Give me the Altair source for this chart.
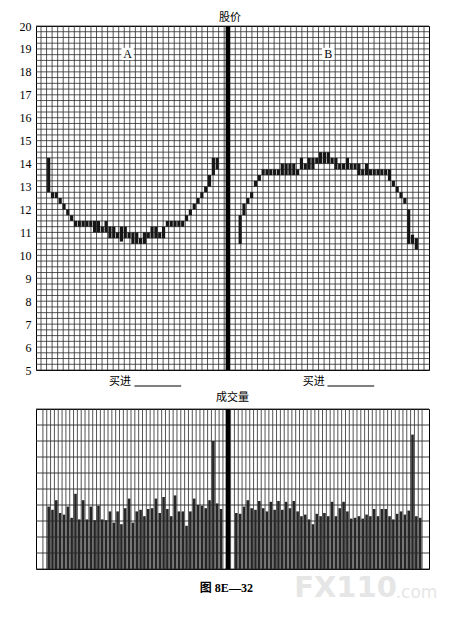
import altair as alt
import pandas as pd
import numpy as np

# ---- price data (daily low / high) ----
a_days = list(range(2, 47))
a_low = [12.75, 12.5, 12.5, 12.25, 12.0, 11.75, 11.5, 11.25, 11.25, 11.25, 11.25, 11.25,
         11.0, 11.0, 11.0, 11.0, 10.75, 10.75, 10.75, 10.6, 10.75, 10.75, 10.5, 10.5, 10.5,
         10.5, 10.75, 10.75, 10.75, 10.75, 10.75, 11.25, 11.25, 11.25, 11.25, 11.25, 11.5,
         11.75, 12.0, 12.25, 12.5, 12.75, 13.0, 13.5, 13.75]
a_high = [14.25, 12.75, 12.75, 12.5, 12.25, 12.0, 11.75, 11.5, 11.5, 11.5, 11.5, 11.5,
          11.5, 11.5, 11.25, 11.5, 11.25, 11.25, 11.0, 11.25, 11.25, 11.0, 11.0, 11.0, 10.75,
          11.0, 11.0, 11.25, 11.25, 11.0, 11.25, 11.5, 11.5, 11.5, 11.5, 11.5, 11.75,
          12.0, 12.25, 12.5, 12.75, 13.0, 13.5, 14.25, 14.25]
b_days = list(range(52, 99))
b_low = [10.5, 11.75, 12.25, 12.5, 13.0, 13.25, 13.5, 13.5, 13.5, 13.5, 13.5, 13.5, 13.5,
         13.5, 13.5, 13.5, 13.75, 13.75, 13.75, 13.75, 14.0, 14.0, 14.0, 14.0, 14.0, 13.75,
         13.75, 13.75, 13.75, 13.75, 13.75, 13.5, 13.5, 13.5, 13.5, 13.5, 13.5, 13.5, 13.5,
         13.25, 13.0, 12.75, 12.5, 12.25, 10.5, 10.5, 10.25]
b_high = [11.75, 12.25, 12.5, 12.75, 13.25, 13.5, 13.75, 13.75, 13.75, 13.75, 13.75, 14.0,
          14.0, 14.0, 14.0, 13.75, 14.25, 14.0, 14.25, 14.25, 14.25, 14.5, 14.5, 14.5, 14.25,
          14.25, 14.0, 14.0, 14.25, 14.0, 14.0, 14.0, 13.75, 14.0, 13.75, 13.75, 13.75, 13.75,
          13.75, 13.75, 13.25, 13.0, 12.75, 12.5, 12.0, 10.9, 10.75]

# ---- volume data ----
vol_a_days = list(range(2, 48))
vol_a = [3.9, 3.7, 4.3, 3.5, 3.4, 3.9, 3.2, 4.7, 3.1, 4.3, 3.1, 3.9, 3.05, 3.95, 3.1, 3.05,
         3.6, 2.9, 3.6, 2.8, 3.8, 4.4, 2.9, 3.6, 3.7, 3.3, 3.75, 3.8, 4.4, 3.5, 4.5, 3.75,
         3.3, 4.6, 3.6, 3.6, 2.7, 3.6, 4.4, 4.0, 3.95, 3.8, 4.3, 8.0, 4.1, 3.75]
vol_b_days = list(range(51, 100))
vol_b = [3.5, 3.45, 3.9, 4.3, 3.8, 3.7, 4.25, 3.8, 3.6, 4.2, 3.7, 4.25, 3.7, 4.2, 3.8, 4.25,
         3.6, 3.3, 3.4, 3.1, 2.8, 3.45, 3.3, 3.5, 3.3, 4.2, 3.3, 3.8, 4.2, 3.6, 3.15, 3.2,
         3.3, 3.15, 3.4, 3.3, 3.75, 3.3, 3.75, 3.75, 3.3, 3.1, 3.45, 3.6, 3.4, 3.65, 8.4,
         3.3, 3.2]

divider = [48.8]
panel_labels = ["A", "B"]
panel_label_x = [22.6, 75.0]
panel_label_y = [18.78, 18.78]
buy_text = ["买进", "买进"]
buy_text_x = [20.6, 71.2]
buy_line_x1 = [24.4, 74.8]
buy_line_x2 = [36.6, 87.0]
price_labels = list(range(5, 21))

W, H1, H2 = 393, 344, 160
SERIF = "Liberation Serif"
CJK = "Noto Sans CJK SC"
GRID = "#2a2a2a"
xs = alt.Scale(domain=[0, 100], nice=False, zero=False)
ys = alt.Scale(domain=[5, 20], nice=False, zero=False)
vs = alt.Scale(domain=[0, 10], nice=False)
y_axis = alt.Axis(values=price_labels, ticks=False, domain=False, title=None, grid=False,
                  labelFont=SERIF, labelFontSize=12, labelColor="black", labelPadding=5,
                  labelOverlap=False)

# grid lines of the chart paper (style layers)
pgx = pd.DataFrame({"g": np.round(np.linspace(0, 100, 70), 3)})
pgy = pd.DataFrame({"g": np.arange(5, 20.001, 0.25)})
vgx = pd.DataFrame({"g": np.arange(0.5, 100, 1.0)})
vgy = pd.DataFrame({"g": np.arange(0, 10.001, 1.0)})

price_df = pd.DataFrame({"day": a_days + b_days, "low": a_low + b_low, "high": a_high + b_high})
vol_df = pd.DataFrame({"day": vol_a_days + vol_b_days, "vol": vol_a + vol_b})

gy_top = alt.Chart(pgy).mark_rule(strokeWidth=0.8, color=GRID).encode(
    y=alt.Y("g:Q", scale=ys, axis=y_axis))
gx_top = alt.Chart(pgx).mark_rule(strokeWidth=0.8, color=GRID).encode(
    x=alt.X("g:Q", scale=xs, axis=None))

bars = alt.Chart(price_df).mark_bar(size=3.2, color="#161616").encode(
    x=alt.X("day:Q", scale=xs, axis=None),
    y=alt.Y("low:Q", scale=ys, axis=y_axis),
    y2="high:Q",
)
div_df = pd.DataFrame({"x": divider})
div_top = alt.Chart(div_df).mark_rule(strokeWidth=4.5, color="black").encode(
    x=alt.X("x:Q", scale=xs, axis=None))

lab_df = pd.DataFrame({"x": panel_label_x, "y": panel_label_y, "t": panel_labels})
lab_box = alt.Chart(lab_df).mark_square(size=150, color="white", opacity=1, filled=True).encode(
    x=alt.X("x:Q", scale=xs, axis=None), y=alt.Y("y:Q", scale=ys, axis=y_axis))
lab_txt = alt.Chart(lab_df).mark_text(font=SERIF, fontSize=12, color="black").encode(
    x=alt.X("x:Q", scale=xs, axis=None), y=alt.Y("y:Q", scale=ys, axis=y_axis), text="t:N")

buy_df = pd.DataFrame({"x": buy_text_x, "t": buy_text, "x1": buy_line_x1, "x2": buy_line_x2})
buy_txt = alt.Chart(buy_df).mark_text(font=CJK, fontSize=11, color="black").encode(
    x=alt.X("x:Q", scale=xs, axis=None), y=alt.value(H1 + 12), text="t:N")
buy_line = alt.Chart(buy_df).mark_rule(strokeWidth=1, color="black").encode(
    x=alt.X("x1:Q", scale=xs, axis=None), x2="x2:Q", y=alt.value(H1 + 16))

ttl_df = pd.DataFrame({"t": ["股价"]})
top_title = alt.Chart(ttl_df).mark_text(font=CJK, fontSize=11, color="black").encode(
    x=alt.value(194), y=alt.value(-8), text="t:N")

top = alt.layer(gy_top, gx_top, bars, div_top, lab_box, lab_txt, buy_txt, buy_line,
                top_title).properties(width=W, height=H1)

gx_bot = alt.Chart(vgx).mark_rule(strokeWidth=0.8, color=GRID).encode(
    x=alt.X("g:Q", scale=xs, axis=None))
gy_bot = alt.Chart(vgy).mark_rule(strokeWidth=0.9, color=GRID).encode(
    y=alt.Y("g:Q", scale=vs, axis=None))
vbars = alt.Chart(vol_df).mark_bar(size=2.6, color="#262626").encode(
    x=alt.X("day:Q", scale=xs, axis=None),
    y=alt.Y("vol:Q", scale=vs, axis=None),
)
div_bot = alt.Chart(div_df).mark_rule(strokeWidth=4.5, color="black").encode(
    x=alt.X("x:Q", scale=xs, axis=None))

cap_df = pd.DataFrame({"x": [48.4], "t": ["图 8E—32"]})
caption = alt.Chart(cap_df).mark_text(font=SERIF + ", " + CJK, fontSize=12, fontWeight="bold",
                                      color="black").encode(
    x=alt.X("x:Q", scale=xs, axis=None), y=alt.value(H2 + 19), text="t:N")
wm_big_df = pd.DataFrame({"x": [79.5], "t": ["FX110"]})
wm_small_df = pd.DataFrame({"x": [92.6], "t": [".com"]})
wm_big = alt.Chart(wm_big_df).mark_text(font="DejaVu Sans", fontSize=29, fontWeight="bold",
                                        color="#e6e6e6").encode(
    x=alt.X("x:Q", scale=xs, axis=None), y=alt.value(H2 + 19), text="t:N")
wm_small = alt.Chart(wm_small_df).mark_text(font="DejaVu Sans", fontSize=17, color="#e6e6e6",
                                            align="left", baseline="alphabetic").encode(
    x=alt.X("x:Q", scale=xs, axis=None), y=alt.value(H2 + 29), text="t:N")

bottom = alt.layer(gy_bot, gx_bot, vbars, div_bot, wm_big, wm_small, caption).properties(
    width=W, height=H2,
    title=alt.TitleParams("成交量", font=CJK, fontSize=11, fontWeight="normal", offset=4, color="black"),
)

chart = alt.vconcat(top, bottom, spacing=39, bounds="flush").properties(
    padding={"left": 10, "top": 3, "right": 5, "bottom": 5}
).configure_view(stroke="black", strokeWidth=1)

chart.save("out.html", embed_options={"renderer": "svg", "actions": False})
